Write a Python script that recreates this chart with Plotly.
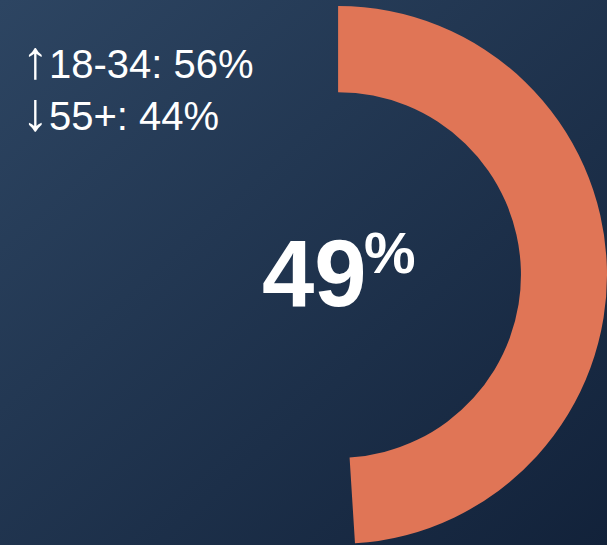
import base64
import plotly.graph_objects as go

# share answering yes, remainder left empty
slice_labels = ["Yes", "Rest"]
slice_values = [49, 51]
slice_colors = ["#e07556", "rgba(0,0,0,0)"]

age_groups = ["18-34", "55+"]
age_shares = [56, 44]
age_arrows = ["\u2191", "\u2193"]

W, H = 607, 545
FONT = "Liberation Sans Narrow, Arial Narrow, Liberation Sans, Arial"

bg_svg = (
    '<svg xmlns="http://www.w3.org/2000/svg" width="607" height="545">'
    '<defs><linearGradient id="g" x1="0" y1="0" x2="1" y2="1">'
    '<stop offset="0" stop-color="#2d4562"/><stop offset="1" stop-color="#12223a"/>'
    '</linearGradient></defs><rect width="607" height="545" fill="url(#g)"/></svg>'
)
bg_uri = "data:image/svg+xml;base64," + base64.b64encode(bg_svg.encode()).decode()

fig = go.Figure(go.Pie(
    labels=slice_labels,
    values=slice_values,
    marker=dict(colors=slice_colors, line=dict(width=0)),
    hole=0.68,
    sort=False,
    direction="clockwise",
    rotation=0,
    textinfo="none",
    hoverinfo="skip",
    showlegend=False,
    domain=dict(x=[0.114, 1.0], y=[0, 540 / 545]),
))

side_text = "<br>".join(
    f"<span style='font-size:54px'>{a}</span>{g}: {v}%"
    for a, g, v in zip(age_arrows, age_groups, age_shares)
)

fig.update_layout(
    width=W, height=H,
    margin=dict(l=0, r=0, t=0, b=0),
    paper_bgcolor="#1e3049",
    plot_bgcolor="rgba(0,0,0,0)",
    images=[dict(source=bg_uri, xref="paper", yref="paper", x=0, y=1,
                 sizex=1, sizey=1, sizing="stretch", xanchor="left", yanchor="top",
                 layer="below")],
    annotations=[
        dict(text=side_text, x=20 / W, y=1 - 27 / H, xref="paper", yref="paper",
             xanchor="left", yanchor="top", align="left", showarrow=False,
             font=dict(family=FONT, size=40, color="white")),
        dict(text=f"<b>{slice_values[0]}</b>", x=314 / W, y=1 - 273 / H,
             xref="paper", yref="paper", xanchor="center", yanchor="middle",
             showarrow=False, font=dict(family=FONT, size=94, color="white")),
        dict(text="<b>%</b>", x=362 / W, y=1 - 252 / H,
             xref="paper", yref="paper", xanchor="left", yanchor="middle",
             showarrow=False, font=dict(family=FONT, size=58, color="white")),
    ],
)

fig.write_html("out.html", config={"displayModeBar": False},
               post_script="document.body.style.margin='0';")
